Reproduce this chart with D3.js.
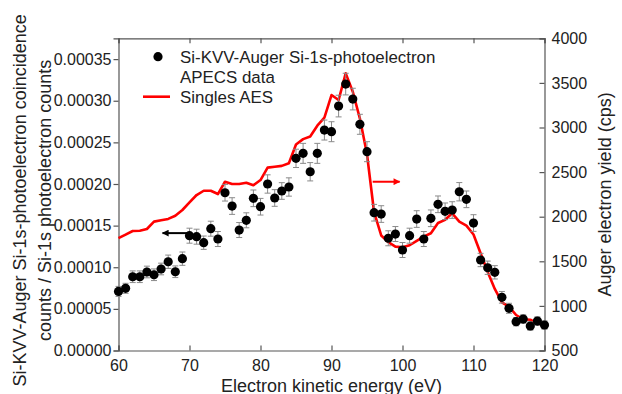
<!DOCTYPE html>
<html lang="en">
<head>
<meta charset="utf-8">
<title>Si-KVV Auger APECS</title>
<script src="https://d3js.org/d3.v7.min.js"></script>
<style>
    body { margin: 0; background: #fff; }
    svg { font-family: Arial, "Liberation Sans", sans-serif; }
    .axis path, .axis line { stroke: #555; stroke-width: 1.2; }
    .axis text { fill: #222; font-size: 16px; font-family: Arial, "Liberation Sans", sans-serif; }
    .title { fill: #222; font-size: 18px; }
    .legend { fill: #222; font-size: 16.9px; }
</style>
</head>
<body>
<script>
// electron kinetic energy of each APECS point (eV)
var energy = [60, 61, 62, 63, 64, 65, 66, 67, 68, 69, 70, 71, 72, 73, 74, 75, 76, 77, 78, 79,
              80, 81, 82, 83, 84, 85, 86, 87, 88, 89, 90, 91, 92, 93, 94, 95, 96, 97, 98, 99,
              100, 101, 102, 103, 104, 105, 106, 107, 108, 109, 110, 111, 112, 113, 114, 115,
              116, 117, 118, 119, 120];

// coincidence counts / photoelectron counts (left axis)
var apecs = [7.1e-5, 7.47e-5, 8.86e-5, 8.86e-5, 9.43e-5, 9.1e-5, 9.79e-5, 1.066e-4, 9.46e-5, 1.103e-4,
             1.379e-4, 1.367e-4, 1.295e-4, 1.463e-4, 1.339e-4, 1.895e-4, 1.735e-4, 1.447e-4, 1.564e-4, 1.828e-4,
             1.727e-4, 2.0e-4, 1.832e-4, 1.916e-4, 1.964e-4, 2.308e-4, 2.368e-4, 2.147e-4, 2.368e-4, 2.648e-4,
             2.628e-4, 2.936e-4, 3.2e-4, 3.02e-4, 2.717e-4, 2.388e-4, 1.655e-4, 1.639e-4, 1.348e-4, 1.399e-4,
             1.207e-4, 1.379e-4, 1.579e-4, 1.339e-4, 1.588e-4, 1.756e-4, 1.672e-4, 1.687e-4, 1.907e-4, 1.816e-4,
             1.531e-4, 1.087e-4, 9.94e-5, 9.39e-5, 6.39e-5, 5.07e-5, 3.46e-5, 3.78e-5, 2.94e-5, 3.54e-5,
             3.06e-5];

// error bar half heights
var apecsErr = [6e-6, 6e-6, 7e-6, 7e-6, 7e-6, 7e-6, 7e-6, 8e-6, 7e-6, 8e-6,
                9e-6, 9e-6, 8e-6, 9e-6, 9e-6, 1.0e-5, 1.0e-5, 9e-6, 9e-6, 1.0e-5,
                1.0e-5, 1.1e-5, 1.0e-5, 1.0e-5, 1.1e-5, 1.1e-5, 1.2e-5, 1.1e-5, 1.2e-5, 1.2e-5,
                1.2e-5, 1.3e-5, 1.3e-5, 1.3e-5, 1.2e-5, 1.2e-5, 1.0e-5, 1.0e-5, 9e-6, 9e-6,
                9e-6, 9e-6, 1.0e-5, 9e-6, 1.0e-5, 1.0e-5, 1.0e-5, 1.0e-5, 1.1e-5, 1.0e-5,
                1.0e-5, 8e-6, 8e-6, 8e-6, 7e-6, 6e-6, 5e-6, 5e-6, 5e-6, 5e-6,
                5e-6];

// singles AES (right axis, cps)
var aesEnergy = energy;
var aesCps = [1760, 1800, 1840, 1843, 1862, 1945, 1960, 1975, 2010, 2075,
              2160, 2243, 2291, 2291, 2254, 2392, 2366, 2366, 2381, 2352,
              2411, 2550, 2560, 2570, 2600, 2810, 2870, 2900, 3020, 3110,
              3364, 3308, 3607, 3401, 3100, 2700, 2050, 1790, 1715, 1665,
              1657, 1680, 1730, 1776, 1814, 1930, 1965, 2038, 1944, 1900,
              1800, 1590, 1380, 1190, 1040, 991, 898, 850, 845, 800,
              786];

// tick values
var xTicks = [60, 70, 80, 90, 100, 110, 120];
var leftTicks = [0, 0.00005, 0.0001, 0.00015, 0.0002, 0.00025, 0.0003, 0.00035];
var rightTicks = [500, 1000, 1500, 2000, 2500, 3000, 3500, 4000];

var w = 622, h = 394;
var plotL = 118.5, plotR = 544.5, plotT = 38.3, plotB = 350.5;

var x = d3.scaleLinear().domain([60, 120]).range([plotL, plotR]);
var yL = d3.scaleLinear().domain([0, 0.000375]).range([plotB, plotT]);
var yR = d3.scaleLinear().domain([500, 4000]).range([plotB, plotT]);

var svg = d3.select("body").append("svg")
    .attr("width", w)
    .attr("height", h);

// arrow heads
var defs = svg.append("defs");
[["headBlack", "#000"], ["headRed", "#ff0000"]].forEach(function(m) {
    defs.append("marker")
        .attr("id", m[0])
        .attr("viewBox", "0 0 10 10")
        .attr("refX", 9).attr("refY", 5)
        .attr("markerWidth", 4).attr("markerHeight", 3.4)
        .attr("markerUnits", "strokeWidth")
        .attr("orient", "auto")
        .append("path")
        .attr("d", "M0,0 L10,5 L0,10 Z")
        .attr("fill", m[1]);
});

// axes
svg.append("g").attr("class", "axis")
    .attr("transform", "translate(0," + plotB + ")")
    .call(d3.axisBottom(x).tickValues(xTicks).tickSize(-5).tickPadding(9).tickFormat(d3.format("d")));

svg.append("g").attr("class", "axis")
    .attr("transform", "translate(0," + plotT + ")")
    .call(d3.axisTop(x).tickValues(xTicks).tickSize(-5).tickFormat(""));

svg.append("g").attr("class", "axis")
    .attr("transform", "translate(" + plotL + ",0)")
    .call(d3.axisLeft(yL).tickValues(leftTicks).tickSize(5).tickPadding(2).tickFormat(d3.format(".5f")));

svg.append("g").attr("class", "axis")
    .attr("transform", "translate(" + plotR + ",0)")
    .call(d3.axisRight(yR).tickValues(rightTicks).tickSize(-5).tickPadding(7).tickFormat(d3.format("d")));

svg.selectAll(".axis .domain").attr("fill", "none");

// singles AES line
var line = d3.line()
    .x(function(d, i) { return x(aesEnergy[i]); })
    .y(function(d) { return yR(d); });

svg.append("path")
    .datum(aesCps)
    .attr("d", line)
    .attr("fill", "none")
    .attr("stroke", "#ff0000")
    .attr("stroke-width", 2.6)
    .attr("stroke-linejoin", "round");

// error bars
var eb = svg.append("g").attr("stroke", "#8a8a8a").attr("stroke-width", 1);
apecs.forEach(function(v, i) {
    var cx = x(energy[i]);
    var y1 = yL(v - apecsErr[i]), y2 = yL(v + apecsErr[i]);
    eb.append("line").attr("x1", cx).attr("x2", cx).attr("y1", y1).attr("y2", y2);
    eb.append("line").attr("x1", cx - 3).attr("x2", cx + 3).attr("y1", y1).attr("y2", y1);
    eb.append("line").attr("x1", cx - 3).attr("x2", cx + 3).attr("y1", y2).attr("y2", y2);
});

// APECS points
svg.selectAll("circle.pt")
    .data(apecs)
    .enter()
    .append("circle")
    .attr("class", "pt")
    .attr("cx", function(d, i) { return x(energy[i]); })
    .attr("cy", function(d) { return yL(d); })
    .attr("r", 4.6)
    .attr("fill", "#000");

// arrows showing which axis belongs to which curve
svg.append("line")
    .attr("x1", x(69.8)).attr("x2", x(66.2))
    .attr("y1", yL(0.000141)).attr("y2", yL(0.000141))
    .attr("stroke", "#000").attr("stroke-width", 2)
    .attr("marker-end", "url(#headBlack)");

svg.append("line")
    .attr("x1", x(95.8)).attr("x2", x(99.6))
    .attr("y1", yR(2392)).attr("y2", yR(2392))
    .attr("stroke", "#ff0000").attr("stroke-width", 2)
    .attr("marker-end", "url(#headRed)");

// legend
svg.append("circle").attr("cx", 158).attr("cy", 56.7).attr("r", 4.6).attr("fill", "#000");
svg.append("line").attr("x1", 143).attr("x2", 170).attr("y1", 96.7).attr("y2", 96.7)
    .attr("stroke", "#ff0000").attr("stroke-width", 2.6);
svg.append("text").attr("class", "legend").attr("x", 180).attr("y", 62.8).text("Si-KVV-Auger Si-1s-photoelectron");
svg.append("text").attr("class", "legend").attr("x", 180).attr("y", 82.8).text("APECS data");
svg.append("text").attr("class", "legend").attr("x", 180).attr("y", 102.8).text("Singles AES");

// axis titles
var cy = (plotT + plotB) / 2;
svg.append("text").attr("class", "title")
    .attr("text-anchor", "middle")
    .attr("x", (plotL + plotR) / 2).attr("y", 392)
    .text("Electron kinetic energy (eV)");

svg.append("text").attr("class", "title")
    .attr("text-anchor", "middle")
    .attr("transform", "translate(26," + (cy + 6) + ") rotate(-90)")
    .text("Si-KVV-Auger Si-1s-photoelectron coincidence");

svg.append("text").attr("class", "title")
    .attr("text-anchor", "middle")
    .attr("transform", "translate(51," + (cy + 6) + ") rotate(-90)")
    .text("counts / Si-1s photoelectron counts");

svg.append("text").attr("class", "title")
    .attr("text-anchor", "middle")
    .attr("transform", "translate(611," + cy + ") rotate(-90)")
    .text("Auger electron yield (cps)");
</script>
</body>
</html>
